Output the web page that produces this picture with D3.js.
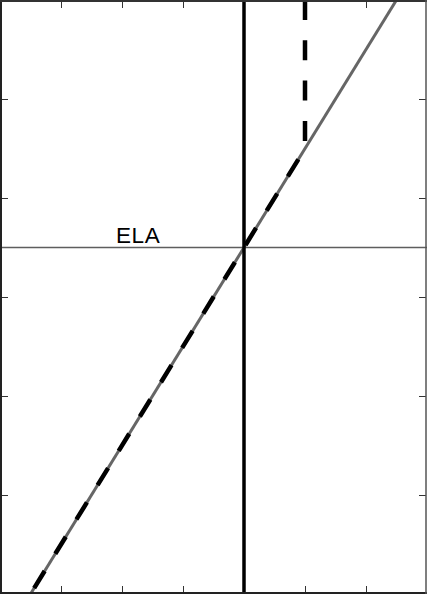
<!DOCTYPE html>
<html>
<head>
<meta charset="utf-8">
<script src="https://cdn.jsdelivr.net/npm/d3@7"></script>
<style>
html,body{margin:0;padding:0;background:#fff;}
svg{display:block;}
</style>
</head>
<body>
<svg id="chart" width="427" height="594"></svg>
<script>
// ---- data ----
const xDomain = [-4, 3];
const yDomain = [0, 6];
const xTicks = [-3, -2, -1, 0, 1, 2];
const yTicks = [1, 2, 3, 4, 5];
const balanceX = [-3.5, 2.5];          // gray mass-balance line
const balanceY = [0, 6];
const dashedX = [1, 1, -3.5];          // dashed line (drawn from top)
const dashedY = [6, 4.5, 0];
const elaY = 3.5;                      // ELA horizontal line
const zeroX = 0;                       // vertical solid line
const elaLabel = "ELA";
const elaLabelX = -2.1;
const elaLabelY = 3.55;

const W = 427, H = 594;
const svg = d3.select("#chart");
const x = d3.scaleLinear().domain(xDomain).range([0, W]);
const y = d3.scaleLinear().domain(yDomain).range([H, 0]);

// axes (ticks inside, no labels)
const tick = 7;
svg.append("g").attr("transform", `translate(0,${H - 1})`)
  .call(d3.axisBottom(x).tickValues(xTicks).tickSize(-tick).tickFormat(""));
svg.append("g").attr("transform", `translate(0,1)`)
  .call(d3.axisTop(x).tickValues(xTicks).tickSize(-tick).tickFormat(""));
svg.append("g").attr("transform", `translate(1,0)`)
  .call(d3.axisLeft(y).tickValues(yTicks).tickSize(-tick).tickFormat(""));
svg.append("g").attr("transform", `translate(${W - 1},0)`)
  .call(d3.axisRight(y).tickValues(yTicks).tickSize(-tick).tickFormat(""));
svg.selectAll(".domain").remove();
svg.selectAll(".tick line").attr("stroke", "#333").attr("stroke-width", 1);

// ELA line
svg.append("line")
  .attr("x1", 0).attr("x2", W)
  .attr("y1", y(elaY)).attr("y2", y(elaY))
  .attr("stroke", "#5e5e5e").attr("stroke-width", 1.5);

// gray line
const line = d3.line().x(d => x(d[0])).y(d => y(d[1]));
svg.append("path")
  .attr("d", line(d3.zip(balanceX, balanceY)))
  .attr("fill", "none").attr("stroke", "#666").attr("stroke-width", 3);

// vertical solid line
svg.append("line")
  .attr("x1", x(zeroX)).attr("x2", x(zeroX))
  .attr("y1", 0).attr("y2", H)
  .attr("stroke", "#000").attr("stroke-width", 3.5);

// dashed line
svg.append("path")
  .attr("d", line(d3.zip(dashedX, dashedY)))
  .attr("fill", "none").attr("stroke", "#000").attr("stroke-width", 4.5)
  .attr("stroke-dasharray", "20,20.3");

// label
svg.append("text")
  .attr("x", x(elaLabelX)).attr("y", y(elaLabelY))
  .attr("font-family", "Liberation Sans, Arial, sans-serif")
  .attr("font-size", 22.5)
  .attr("letter-spacing", 0.7)
  .attr("fill", "#000")
  .text(elaLabel);

// frame
svg.append("line").attr("x1", 1).attr("x2", 1).attr("y1", 0).attr("y2", H).attr("stroke", "#222").attr("stroke-width", 2);
svg.append("line").attr("x1", 0).attr("x2", W).attr("y1", 1).attr("y2", 1).attr("stroke", "#333").attr("stroke-width", 2);
svg.append("line").attr("x1", 0).attr("x2", W).attr("y1", H - 1).attr("y2", H - 1).attr("stroke", "#222").attr("stroke-width", 2);
svg.append("line").attr("x1", W - 1).attr("x2", W - 1).attr("y1", 0).attr("y2", H).attr("stroke", "#555").attr("stroke-width", 1.5);
</script>
</body>
</html>
